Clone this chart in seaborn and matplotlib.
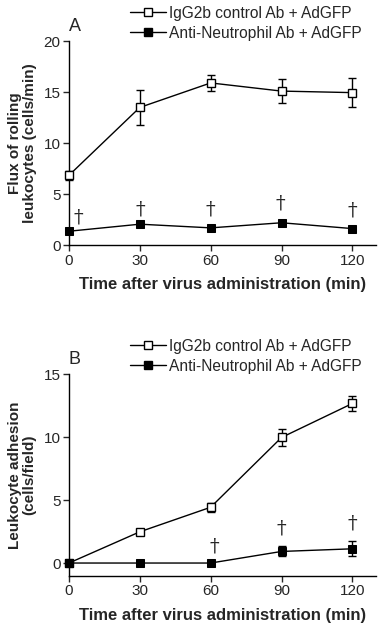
import numpy as np
import pandas as pd
import matplotlib
matplotlib.use("Agg")
import matplotlib.pyplot as plt
import seaborn as sns

# time points (min)
times = [0, 30, 60, 90, 120]
groups = ["IgG2b control Ab + AdGFP", "Anti-Neutrophil Ab + AdGFP"]

# panel A: flux of rolling leukocytes (cells/min)
flux_ctrl = [6.85, 13.5, 15.9, 15.1, 14.95]
flux_ctrl_err = [0.45, 1.7, 0.8, 1.15, 1.45]
flux_anti = [1.37, 2.06, 1.7, 2.2, 1.63]
flux_anti_err = [0.15, 0.3, 0.3, 0.3, 0.12]
flux_dagger_x = [4, 30, 60, 89.5, 120]
flux_dagger_y = [2.7, 3.5, 3.5, 4.1, 3.4]

# panel B: leukocyte adhesion (cells/field)
adh_ctrl = [0.0, 2.48, 4.43, 9.97, 12.67]
adh_ctrl_err = [0.1, 0.15, 0.35, 0.7, 0.6]
adh_anti = [0.0, 0.0, 0.0, 0.92, 1.13]
adh_anti_err = [0.0, 0.0, 0.0, 0.4, 0.6]
adh_dagger_x = [61.5, 90, 120]
adh_dagger_y = [1.32, 2.77, 3.1]

sns.set_style("ticks")
plt.rcParams["font.family"] = ["Liberation Sans", "DejaVu Sans"]

fig = plt.figure(figsize=(3.79, 6.32), dpi=100)
axA = fig.add_axes([0.182, 0.612, 0.81, 0.323])
axB = fig.add_axes([0.182, 0.0886, 0.81, 0.3194])


def draw_panel(ax, ctrl, ctrl_err, anti, anti_err, dx, dy, ylim, yticks, ylabel, letter):
    df = pd.DataFrame({
        "time": times * 2,
        "value": ctrl + anti,
        "group": [groups[0]] * 5 + [groups[1]] * 5,
    })
    sns.lineplot(data=df, x="time", y="value", hue="group", style="group",
                 palette=["black", "black"], markers=["s", "s"], dashes=False,
                 linewidth=1.0, markersize=6, ax=ax, legend=False, clip_on=False,
                 zorder=3)
    ax.errorbar(times, ctrl, yerr=ctrl_err, fmt="none", ecolor="black",
                elinewidth=1.0, capsize=2.8, capthick=1.0, clip_on=False, zorder=2)
    ax.errorbar(times, anti, yerr=anti_err, fmt="none", ecolor="black",
                elinewidth=1.0, capsize=2.8, capthick=1.0, clip_on=False, zorder=2)
    # open markers for control group
    lines = ax.get_lines()
    lines[0].set_markerfacecolor("white")
    lines[0].set_markeredgecolor("black")
    lines[0].set_markeredgewidth(1.0)
    lines[1].set_markerfacecolor("black")
    lines[1].set_markeredgecolor("black")
    for x, y in zip(dx, dy):
        ax.text(x, y, "\u2020", ha="center", va="center", fontsize=14,
                family="DejaVu Serif")
    ax.set_xlim(0, 130)
    ax.set_ylim(*ylim)
    ax.set_xticks([0, 30, 60, 90, 120])
    ax.set_yticks(yticks)
    ax.tick_params(labelsize=11, length=4, width=1.0, direction="out", pad=2)
    for s in ["left", "bottom"]:
        ax.spines[s].set_linewidth(1.0)
        ax.spines[s].set_color("black")
    sns.despine(ax=ax)
    ax.set_xlabel("Time after virus administration (min)", fontsize=12,
                  fontweight="bold", labelpad=7)
    ax.set_ylabel(ylabel, fontsize=11, fontweight="bold", labelpad=5,
                  linespacing=1.05)
    ax.text(0.0, 1.03, letter, transform=ax.transAxes, fontsize=13,
            ha="left", va="bottom")
    h1 = plt.Line2D([], [], color="black", marker="s", markersize=6,
                    markerfacecolor="white", linewidth=1.0)
    h2 = plt.Line2D([], [], color="black", marker="s", markersize=6,
                    markerfacecolor="black", linewidth=1.0)
    ax.legend([h1, h2], groups, loc="lower right", bbox_to_anchor=(0.96, 0.995),
              frameon=False, fontsize=11.2, handlelength=2.3, handletextpad=0.2,
              labelspacing=0.3, borderpad=0.1, borderaxespad=0.0)


draw_panel(axA, flux_ctrl, flux_ctrl_err, flux_anti, flux_anti_err,
           flux_dagger_x, flux_dagger_y, (0, 20), [0, 5, 10, 15, 20],
           "Flux of rolling\nleukocytes (cells/min)", "A")
draw_panel(axB, adh_ctrl, adh_ctrl_err, adh_anti, adh_anti_err,
           adh_dagger_x, adh_dagger_y, (-1.03, 15), [0, 5, 10, 15],
           "Leukocyte adhesion\n(cells/field)", "B")

fig.savefig("out.png", dpi=100)
